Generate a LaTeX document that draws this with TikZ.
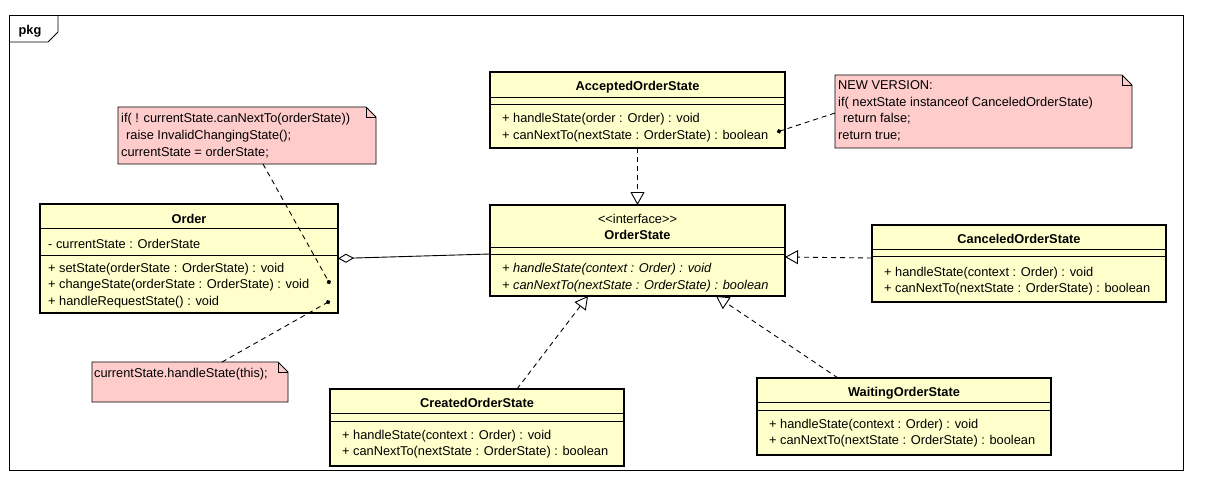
\documentclass[tikz,border=0pt]{standalone}
\usepackage{fontspec}
\setmainfont{Liberation Sans}
\usetikzlibrary{arrows.meta}
\definecolor{classfill}{RGB}{255,255,204}
\definecolor{notefill}{RGB}{255,204,204}

\begin{document}
\begin{tikzpicture}[x=1pt,y=-1pt,
  txt/.style={inner sep=0pt, anchor=base west, font=\fontsize{12.8}{15}\selectfont},
  ttl/.style={inner sep=0pt, anchor=base, font=\fontsize{12.8}{15}\selectfont\bfseries},
  itxt/.style={txt, font=\fontsize{12.8}{15}\selectfont\itshape},
  classbox/.style={draw, line width=1.8pt, fill=classfill, inner sep=0pt, outer sep=0pt, anchor=north west},
  sepline/.style={line width=0.9pt},
  notebox/.style={inner sep=0pt, outer sep=0pt, anchor=north west},
  noteline/.style={draw, fill=notefill, line width=0.9pt},
  realize/.style={dash pattern=on 5pt off 4pt, line width=0.9pt, -{Triangle[open, length=13pt, width=14pt]}},
  anchorline/.style={dash pattern=on 5pt off 4pt, line width=0.9pt, -{Circle[length=4.5pt]}},
  aggregate/.style={line width=0.9pt, {Diamond[open, length=16pt, width=9pt]}-},
]
\useasboundingbox (0,0) rectangle (1205,482);
\fill[white] (0,0) rectangle (1205,482);

% package frame with its name tab
\draw[line width=0.9pt] (9,15) rectangle (1183,470);
\draw[line width=0.9pt] (9,42) -- (48,42) -- (58,32) -- (58,15);
\node[ttl] (pkgname) at (30,34.6) {pkg};

% ---------- class boxes ----------
\node[classbox, minimum width=298pt, minimum height=109pt] (order) at (40,204) {};
\node[classbox, minimum width=295pt, minimum height=76pt] (acc) at (490,72) {};
\node[classbox, minimum width=295pt, minimum height=91pt] (os) at (490,205) {};
\node[classbox, minimum width=294pt, minimum height=77pt] (can) at (872,225) {};
\node[classbox, minimum width=294pt, minimum height=77pt] (cre) at (330,389) {};
\node[classbox, minimum width=294pt, minimum height=77pt] (wai) at (757,378) {};

% compartment separators
\foreach \c/\a/\b in {order/24/51, acc/25/32, os/42/49, can/24/31, cre/24/32, wai/24/32}{
  \draw[sepline] ([yshift=-\a pt]\c.north west) -- ([yshift=-\a pt]\c.north east);
  \draw[sepline] ([yshift=-\b pt]\c.north west) -- ([yshift=-\b pt]\c.north east);
}

% Order
\node[ttl] (order-name) at (189,223.1) {Order};
\node[txt] (order-a1) at (48,248.6) {- currentState : OrderState};
\node[txt] (order-m1) at (48,272.1) {+ setState(orderState : OrderState) : void};
\node[txt] (order-m2) at (48,288.6) {+ changeState(orderState : OrderState) : void};
\node[txt] (order-m3) at (48,305.6) {+ handleRequestState() : void};

% AcceptedOrderState
\node[ttl] (acc-name) at (637.5,90.1) {AcceptedOrderState};
\node[txt] (acc-m1) at (502,122.6) {+ handleState(order : Order) : void};
\node[txt] (acc-m2) at (502,139.1) {+ canNextTo(nextState : OrderState) : boolean};

% OrderState interface
\node[txt, anchor=base] (os-st) at (637.5,223.6) {<{}<interface>{}>};
\node[ttl] (os-name) at (637.5,239.6) {OrderState};
\node[itxt] (os-m1) at (502,272.6) {+ handleState(context : Order) : void};
\node[itxt] (os-m2) at (502,289.6) {+ canNextTo(nextState : OrderState) : boolean};

% CanceledOrderState
\node[ttl] (can-name) at (1019,243.1) {CanceledOrderState};
\node[txt] (can-m1) at (884,276.1) {+ handleState(context : Order) : void};
\node[txt] (can-m2) at (884,292.1) {+ canNextTo(nextState : OrderState) : boolean};

% CreatedOrderState
\node[ttl] (cre-name) at (477,407.1) {CreatedOrderState};
\node[txt] (cre-m1) at (342,439.6) {+ handleState(context : Order) : void};
\node[txt] (cre-m2) at (342,455.1) {+ canNextTo(nextState : OrderState) : boolean};

% WaitingOrderState
\node[ttl] (wai-name) at (904,396.1) {WaitingOrderState};
\node[txt] (wai-m1) at (769,428.6) {+ handleState(context : Order) : void};
\node[txt] (wai-m2) at (769,444.6) {+ canNextTo(nextState : OrderState) : boolean};

% ---------- notes ----------
\node[notebox, minimum width=258pt, minimum height=57pt] (n1) at (118,107) {};
\node[notebox, minimum width=297pt, minimum height=73pt] (n2) at (835,75) {};
\node[notebox, minimum width=196pt, minimum height=40pt] (n3) at (92,362) {};
\foreach \n in {n1,n2,n3}{
  \path[noteline] (\n.north west) -- ([xshift=-10pt]\n.north east) -- ([yshift=-10pt]\n.north east)
     -- (\n.south east) -- (\n.south west) -- cycle;
  \draw[line width=0.9pt] ([xshift=-10pt]\n.north east) -- ([xshift=-10pt,yshift=-10pt]\n.north east)
     -- ([yshift=-10pt]\n.north east);
}
\node[txt] (n1-l1) at (121,122.6) {if( ! currentState.canNextTo(orderState))};
\node[txt] (n1-l2) at (126,139.6) {raise InvalidChangingState();};
\node[txt] (n1-l3) at (121,156.6) {currentState = orderState;};

\node[txt] (n2-l1) at (838,89.6) {NEW VERSION:};
\node[txt] (n2-l2) at (838,106.1) {if( nextState instanceof CanceledOrderState)};
\node[txt] (n2-l3) at (843,122.6) {return false;};
\node[txt] (n2-l4) at (838,139.1) {return true;};

\node[txt] (n3-l1) at (94,377.6) {currentState.handleState(this);};

% ---------- connectors ----------
\draw[aggregate] (order.east) -- ([yshift=-3.5pt]os.west);
\draw[realize] (acc.south) -- (os.north);
\draw[realize] ([yshift=5.5pt]can.west) -- ([yshift=-6.5pt]os.east);
\draw[realize] ([xshift=40pt]cre.north) -- ([xshift=-49.5pt]os.south);
\draw[realize] ([xshift=-66pt]wai.north) -- ([xshift=78.5pt]os.south);

\draw[anchorline] ([xshift=16pt]n1.south) -- ([xshift=-8pt,yshift=-25.5pt]order.east);
\draw[anchorline] ([xshift=32pt]n3.north) -- ([xshift=-8pt,yshift=-42.5pt]order.east);
\draw[anchorline] ([yshift=-1.5pt]n2.west) -- ([xshift=-8pt,yshift=-22pt]acc.east);
\end{tikzpicture}
\end{document}
